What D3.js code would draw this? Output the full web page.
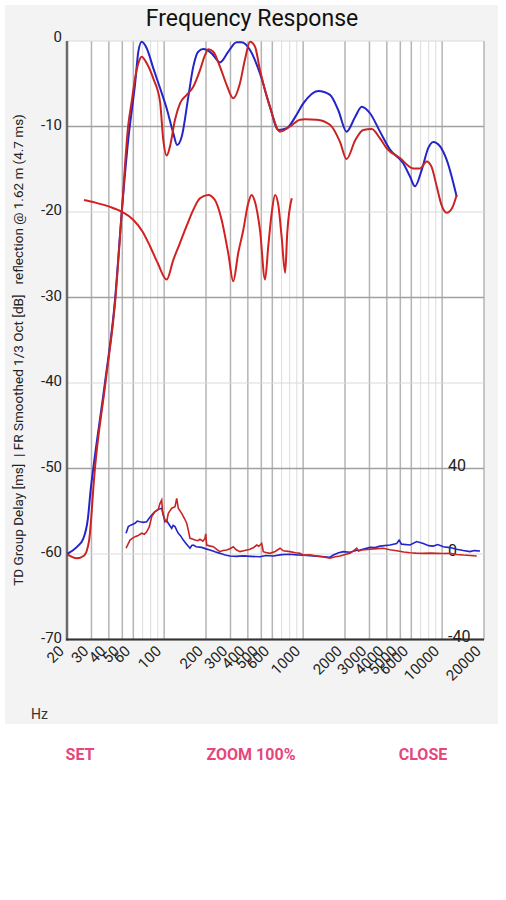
<!DOCTYPE html>
<html><head><meta charset="utf-8">
<script src="https://cdn.jsdelivr.net/npm/d3@7/dist/d3.min.js"></script>
<style>
body{margin:0;background:#fff;}
svg{display:block;font-family:Roboto,"Noto Sans",sans-serif;}
</style>
</head><body>
<svg id="chart" width="506" height="900"></svg>
<script>
// ---------- DATA ----------
const xTickValues = [20,30,40,50,60,100,200,300,400,500,600,1000,2000,3000,4000,5000,6000,10000,20000];
const xMinorValues = [70,80,90,700,800,900,7000,8000,9000];
const yTickValues = [0,-10,-20,-30,-40,-50,-60,-70];
const gdTickValues = [40,0,-40];

// FR smoothed 1/3 oct, blue [Hz, dB]
const frBlue = [
 [20,-60],[23.5,-59.2],[26.2,-58.2],[28.3,-55.8],[29.6,-52.5],[30.9,-50],[37.5,-40],[44.3,-30.3],[49.5,-20.1],
 [55.2,-11.5],[58.4,-8.2],[61.7,-5.1],[65.2,-1.25],[68.9,-0.1],[74.9,-0.85],[83.6,-3.2],[93.4,-5.5],[104.3,-7.9],
 [116.4,-10.8],[124,-12.15],[133.7,-11.2],[149.3,-6.5],[162,-3.0],[175.8,-1.25],[191.4,-0.95],[219.7,-1.45],
 [252,-2.5],[289.4,-1.25],[332,-0.15],[361,-0.15],[414.6,-1.05],[489,-3.8],[577,-7.7],[663,-10.4],[762,-10.2],
 [880,-8.85],[1002,-7.3],[1284,-5.84],[1560,-6.3],[1790,-8.1],[2052,-10.6],[2370,-8.85],[2636,-7.68],[3027,-8.45],
 [3572,-10.6],[4214,-12.7],[5245,-14.3],[5872,-15.85],[6374,-17.0],[7121,-15.1],[7952,-12.5],[8636,-11.8],
 [9632,-12.3],[10780,-13.9],[12720,-18.2]
];
// FR smoothed 1/3 oct, red [Hz, dB]
const frRed = [
 [20,-60],[23.5,-60.5],[26.5,-60.2],[28.8,-58.5],[29.8,-56],[31.2,-51.5],[37.8,-40],[44.5,-30.3],[49.5,-20.1],
 [55.2,-9.8],[58.4,-7.1],[61.7,-4.4],[65.2,-2.6],[68.9,-1.83],[74.9,-2.6],[83.6,-4.4],[93.4,-7.1],[98.6,-11.6],
 [104.3,-13.4],[110.1,-12.35],[119.7,-9.2],[130.1,-7.3],[145.3,-6.3],[162,-5.35],[181.1,-3.4],[196.7,-1.65],
 [208,-0.97],[225.8,-1.25],[252,-3.0],[281.8,-5.15],[314,-6.7],[351,-4.95],[381,-2.2],[414.6,-0.1],[450,-0.65],
 [489,-3.4],[577,-7.7],[681,-10.6],[804,-10.0],[949,-9.2],[1031,-9.15],[1251,-9.2],[1560,-9.8],[1841,-11.8],
 [2052,-13.8],[2370,-11.6],[2706,-10.4],[3114,-10.3],[3572,-11.4],[3990,-12.55],[4974,-13.7],[6200,-14.9],
 [6930,-14.9],[7740,-14.1],[8376,-14.7],[9134,-17.0],[9900,-19.2],[10780,-20.1],[11740,-19.6],[12720,-18.0]
];
// reflection @ 1.62 m, red [Hz, dB]
const reflection = [
 [26.5,-18.6],[32,-18.9],[40.8,-19.4],[50,-20.0],[59.9,-20.9],[70,-22.3],[79.1,-24.0],[90,-26.0],[104.3,-27.9],
 [116.4,-25.6],[130.1,-23.6],[145.3,-21.6],[162,-19.75],[181,-18.4],[207.6,-18.0],[232,-18.6],[259,-20.9],
 [289,-24.8],[314,-28.1],[341,-24.8],[371,-22.1],[402,-19.0],[426,-18.0],[450,-18.8],[489,-22.1],[532,-27.9],
 [561,-24.0],[594,-20.1],[628,-18.0],[663,-19.2],[700,-22.9],[742,-27.1],[768,-22.5],[828,-18.4]
];
// TD group delay, blue [Hz, ms]
const gdBlue = [
 [53.2,9.7],[55.2,12.8],[58,13.6],[61.7,14.4],[64,15.4],[67,15.1],[71,14.8],[74.9,15.1],[78.2,16.8],[81.4,18.2],
 [85,19.6],[88.4,20.3],[92,21.0],[96,21.4],[98,19.0],[101.4,15.1],[104,15.8],[107.1,14.4],[110,13.2],[113.3,12.0],
 [116,13.4],[119.7,12.8],[123,11.2],[126.4,9.7],[131,8.6],[137.3,6.5],[145,4.6],[153.4,2.7],[158,4.0],[162,4.2],
 [170,3.4],[186.3,3.1],[200,2.4],[213.8,1.9],[232,1.0],[252.2,0.3],[275,-0.5],[297.7,-0.9],[330,-1.1],[371,-0.9],
 [420,-1.1],[489,-1.3],[540,-0.7],[610,-0.9],[700,-0.3],[804,-0.1],[900,-0.4],[1002,-0.6],[1251,-1.0],[1560,-1.5],
 [1648,-0.5],[1800,0.6],[1945,1.1],[2172,0.8],[2400,1.6],[2564,1.9],[3027,3.1],[3300,3.0],[3572,3.7],[4214,4.2],
 [4708,4.9],[4900,6.5],[5100,4.6],[5872,4.2],[6560,5.8],[7318,4.9],[8000,3.9],[8636,3.7],[9300,4.4],[10190,3.4],
 [11390,3.0],[12720,2.2],[14200,1.6],[15860,1.1],[17000,1.6],[18720,1.4]
];
// TD group delay, red [Hz, ms]
const gdRed = [
 [53.2,2.7],[56.8,6.5],[59,7.3],[61.7,8.1],[65,8.6],[68.9,9.7],[72,9.2],[74.9,10.4],[78.2,12.8],[81.4,17.5],
 [85.9,19.8],[90.8,21.0],[93.4,23.7],[96,25.3],[97.6,19.0],[101.4,15.9],[104.3,15.1],[107.1,19.0],[110,20.2],
 [113.3,21.4],[119.7,22.1],[123.1,26.0],[126.4,21.4],[133.7,19.0],[140,16.6],[145.3,14.4],[150,10.5],[153.4,7.3],
 [160,7.0],[166.7,6.5],[175,6.2],[181.1,6.9],[190,6.0],[196.7,7.3],[199,9.4],[202.3,4.2],[212,3.8],[225.8,3.4],
 [240,2.0],[252.2,1.1],[265,1.6],[281.8,1.9],[300,2.6],[314.4,3.4],[330,2.0],[351.2,1.1],[380,1.6],[414.6,2.2],
 [440,3.0],[463.2,4.2],[480,3.6],[503.2,5.0],[516.8,1.1],[540,0.7],[577.4,0.3],[630,1.2],[681.4,2.7],[720,1.5],
 [804.2,1.1],[880,0.6],[949.4,0.3],[1002,-0.5],[1120,-0.4],[1251,-0.9],[1400,-1.4],[1560,-2.0],[1700,-1.3],
 [1841,-0.9],[2000,-0.2],[2172,0.3],[2300,1.5],[2428,2.7],[2500,1.4],[2638,1.9],[3027,2.2],[3400,2.5],[3772,2.7],
 [4200,2.0],[4708,1.5],[5300,0.9],[5872,0.6],[6500,0.4],[7318,0.3],[8200,0.4],[9134,0.3],[10190,0.2],[11390,0.3],
 [12720,-0.2],[14200,-0.5],[16000,-0.7],[17720,-0.9]
];

// ---------- LAYOUT ----------
const svg = d3.select("#chart");
const L = 67, R = 484, T = 41, B = 639.5;
const x = d3.scaleLog().domain([20,20000]).range([L,R]);
const y = d3.scaleLinear().domain([-70,0]).range([B,T]);
const yGD = d3.scaleLinear().domain([-40,240]).range([B,T]);

// panel
svg.append("rect").attr("x",5).attr("y",5).attr("width",493).attr("height",719).attr("fill","#f3f3f3");
svg.append("rect").attr("x",L).attr("y",T).attr("width",R-L).attr("height",B-T).attr("fill","#fff");

// title
svg.append("text").attr("x",252).attr("y",26).attr("text-anchor","middle")
  .attr("font-size",23).attr("fill","#111").text("Frequency Response");

// grid: vertical
const g = svg.append("g");
g.selectAll(".vmin").data(xMinorValues).enter().append("line")
  .attr("x1",d=>x(d)).attr("x2",d=>x(d)).attr("y1",T).attr("y2",B)
  .attr("stroke","#dcdcdc").attr("stroke-width",1);
g.selectAll(".vmaj").data(xTickValues).enter().append("line")
  .attr("x1",d=>x(d)).attr("x2",d=>x(d)).attr("y1",T).attr("y2",B)
  .attr("stroke","#b4b4b4").attr("stroke-width",1.5);
// grid: horizontal
g.selectAll(".h").data(yTickValues).enter().append("line")
  .attr("x1",L).attr("x2",R).attr("y1",d=>y(d)).attr("y2",d=>y(d))
  .attr("stroke",d=>(Math.abs(d)/10)%2===1?"#a0a0a0":"#dadada")
  .attr("stroke-width",d=>(Math.abs(d)/10)%2===1?1.5:1);

// axes
svg.append("line").attr("x1",L).attr("x2",L).attr("y1",T).attr("y2",B+1)
  .attr("stroke","#6a6a6a").attr("stroke-width",2.5);
svg.append("line").attr("x1",L-1).attr("x2",R).attr("y1",B).attr("y2",B)
  .attr("stroke","#333").attr("stroke-width",2);

// left tick labels
svg.selectAll(".yl").data(yTickValues).enter().append("text")
  .attr("x",62).attr("y",d=>y(d)+(d===0?1:3)).attr("text-anchor","end")
  .attr("font-size",15).attr("fill","#222").text(d=>d);
// right (group delay) tick labels
svg.selectAll(".gl").data(gdTickValues).enter().append("text")
  .attr("x",448).attr("y",d=>yGD(d)+2).attr("text-anchor","start")
  .attr("font-size",16).attr("fill","#222").text(d=>d);
// x tick labels
svg.selectAll(".xl").data(xTickValues).enter().append("text")
  .attr("transform",d=>`translate(${x(d)-2},652) rotate(-45)`)
  .attr("text-anchor","end").attr("font-size",15).attr("fill","#222").text(d=>d);

// axis titles
svg.append("text").attr("transform","translate(23,350) rotate(-90)")
  .attr("text-anchor","middle").attr("font-size",13.5).attr("fill","#222")
  .style("white-space","pre")
  .text("TD Group Delay [ms]  | FR Smoothed 1/3 Oct [dB]   reflection @ 1.62 m (4.7 ms)");
svg.append("text").attr("x",31).attr("y",719).attr("font-size",14).attr("fill","#333").text("Hz");

// clip
svg.append("clipPath").attr("id","clip").append("rect")
  .attr("x",L).attr("y",T-3).attr("width",R-L).attr("height",B-T+3);
const plot = svg.append("g").attr("clip-path","url(#clip)");

const lineFR = d3.line().x(d=>x(d[0])).y(d=>y(d[1])).curve(d3.curveMonotoneX);
const lineGD = d3.line().x(d=>x(d[0])).y(d=>yGD(d[1])).curve(d3.curveLinear);
const BLUE = "#2424c8", RED = "#c82424";

plot.append("path").datum(frBlue).attr("d",lineFR).attr("fill","none").attr("stroke",BLUE).attr("stroke-width",2);
plot.append("path").datum(frRed).attr("d",lineFR).attr("fill","none").attr("stroke",RED).attr("stroke-width",2);
plot.append("path").datum(reflection).attr("d",lineFR).attr("fill","none").attr("stroke","#d42020").attr("stroke-width",2);
plot.append("path").datum(gdBlue).attr("d",lineGD).attr("fill","none").attr("stroke",BLUE).attr("stroke-width",1.6);
plot.append("path").datum(gdRed).attr("d",lineGD).attr("fill","none").attr("stroke",RED).attr("stroke-width",1.6);

// buttons
const buttons = [["SET",80],["ZOOM 100%",251],["CLOSE",423]];
svg.selectAll(".btn").data(buttons).enter().append("text")
  .attr("x",d=>d[1]).attr("y",760).attr("text-anchor","middle")
  .attr("font-size",16).attr("font-weight",700).attr("fill","#e5477d").text(d=>d[0]);
</script>
</body></html>
